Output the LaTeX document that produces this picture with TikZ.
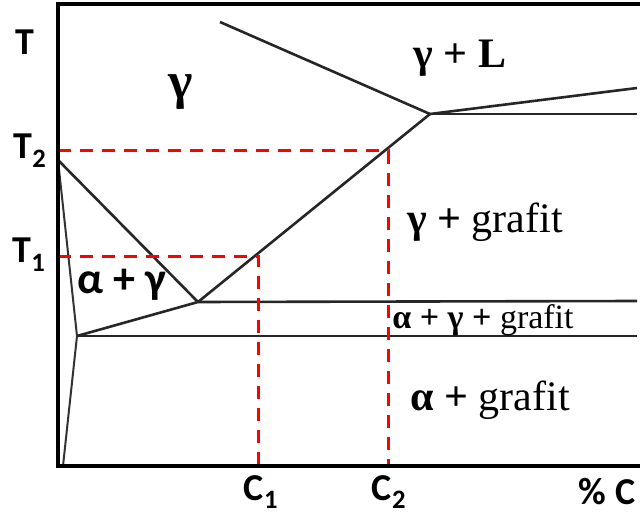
\documentclass[tikz,border=0pt]{standalone}
\usepackage{fontspec}
\setmainfont{Liberation Serif}
\newfontfamily\lblfont{Carlito}
\begin{document}
\begin{tikzpicture}[x=1pt,y=-1pt,
  axisline/.style={line width=4pt, black},
  phase/.style={line width=2.6pt, black!85},
  thinphase/.style={line width=2pt, black!80},
  guide/.style={line width=3pt, red, dash pattern=on 13pt off 9pt},
  axlbl/.style={font=\lblfont\bfseries\fontsize{38}{40}\selectfont, inner sep=0pt},
  region/.style={font=\fontsize{42}{46}\selectfont, inner sep=0pt},
  smallregion/.style={font=\fontsize{34}{38}\selectfont, inner sep=0pt}]
\useasboundingbox (0,0) rectangle (640,516);
% frame points
\coordinate (O) at (58,466);
\coordinate (TL) at (58,4);
\coordinate (TR) at (640,4);
\coordinate (BR) at (640,466);
% phase points
\coordinate (A) at (58,160);
\coordinate (P) at (77,336);
\coordinate (PB) at (63,466);
\coordinate (E) at (198,302);
\coordinate (Q) at (430,114);
\coordinate (Ls) at (220,22);
\coordinate (R1) at (637,88);
\coordinate (R2) at (637,114);
\coordinate (R3) at (637,301);
\coordinate (R4) at (637,336);
% guide points
\coordinate (Y2) at (58,151);
\coordinate (X2) at (388,151);
\coordinate (X2b) at (388,466);
\coordinate (Y1) at (58,256);
\coordinate (X1) at (258,256);
\coordinate (X1b) at (258,466);
% phase lines
\draw[thinphase] (A) -- (P) -- (PB);
\draw[phase] (A) -- (E);
\draw[phase] (P) -- (E);
\draw[phase] (E) -- (R3);
\draw[phase] (P) -- (R4);
\draw[phase] (E) -- (Q);
\draw[phase] (Ls) -- (Q);
\draw[phase] (Q) -- (R1);
\draw[phase] (Q) -- (R2);
% guides
\draw[guide] (Y2) -- (X2) -- (X2b);
\draw[guide] (Y1) -- (X1) -- (X1b);
% axes
\draw[axisline] (TR) -- (TL) -- (O) -- (BR);
% labels
\node[axlbl] (lT) at (25,42) {T};
\node[axlbl] (lT2) at (30,151) {T\textsubscript{2}};
\node[axlbl] (lT1) at (29,255) {T\textsubscript{1}};
\node[axlbl] (lC1) at (261,492) {C\textsubscript{1}};
\node[axlbl] (lC2) at (389,492) {C\textsubscript{2}};
\node[axlbl] (lC) at (607,492) {\% C};
\node[region, font=\bfseries\fontsize{52}{56}\selectfont] (g) at (181,92) {γ};
\node[region] (gL) at (460,58) {\textbf{γ + L}};
\node[region] (gg) at (485,222) {\textbf{γ +} grafit};
\node[region, font=\lblfont\bfseries\fontsize{44}{46}\selectfont] (ag) at (122,285) {α + γ};
\node[smallregion] (agg) at (483,320) {\textbf{α + γ +} grafit};
\node[region] (ag2) at (490,400) {\textbf{α +} grafit};
\end{tikzpicture}
\end{document}
